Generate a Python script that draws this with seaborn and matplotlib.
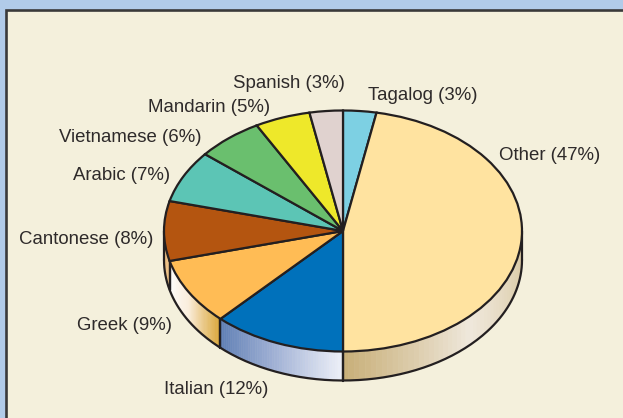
import numpy as np
import matplotlib
matplotlib.use('Agg')
import matplotlib.pyplot as plt
from matplotlib.patches import Rectangle
import seaborn as sns

# Data - clockwise from the top
languages = ['Tagalog', 'Other', 'Italian', 'Greek', 'Cantonese',
             'Arabic', 'Vietnamese', 'Mandarin', 'Spanish']
shares = [3, 47, 12, 9, 8, 7, 6, 5, 3]
top_colors = ['#7dd0e3', '#ffe3a0', '#0071bb', '#ffbc55', '#b45510',
              '#5cc5b5', '#6abf6e', '#eee82a', '#e0d2cf']

# side wall gradients, only the slices that reach the lower half
wall_colors = {
    'Other': ['#c9b07a', '#efe8dc', '#d8c69c'],
    'Italian': ['#5f7fb5', '#a3b3d6', '#eceff8'],
    'Greek': ['#ffffff', '#fbeedd', '#dba83c'],
    'Cantonese': ['#e8b878', '#eec48c'],
}

# label anchors in picture pixels (left edge, vertical centre)
label_pos = {
    'Tagalog': (368, 94), 'Other': (499, 153), 'Italian': (164, 388),
    'Greek': (77, 324), 'Cantonese': (19, 238), 'Arabic': (73, 173),
    'Vietnamese': (59, 136), 'Mandarin': (148, 105), 'Spanish': (233, 81),
}

W, H = 623, 418
CX, CY, RX, RY = 343, 231, 179, 120.5
DEPTH = 29 / RY
INK = '#231f20'
LW = 1.6


def px(x, y):
    # picture pixels to pie units
    return (x - CX) / RX, (CY - y) / RY


sns.set_theme(style='white')
plt.rcParams['font.family'] = ['Liberation Sans', 'DejaVu Sans']

fig = plt.figure(figsize=(W / 100, H / 100), dpi=100, facecolor='#b1cbe9')
ax = fig.add_axes([0, 0, 1, 1])

wedges, _ = ax.pie(shares, colors=sns.color_palette(top_colors), startangle=90,
                   counterclock=False, radius=1,
                   wedgeprops={'edgecolor': INK, 'linewidth': LW, 'zorder': 5})

# pie forces equal aspect, the tilted look needs it squashed
ax.set_aspect('auto')
ax.set_xlim(px(0, 0)[0], px(W, 0)[0])
ax.set_ylim(px(0, H)[1], px(0, 0)[1])
ax.set_frame_on(True)
ax.patch.set_alpha(0)
sns.despine(ax=ax, left=True, bottom=True)

# Panel behind the pie
x0, y0 = px(6, 9.5)
x1, y1 = px(W + 20, H + 20)
ax.add_patch(Rectangle((x0, y1), x1 - x0, y0 - y1, facecolor='#f4f0dc',
                       edgecolor='#3a3a3a', linewidth=1.9, zorder=0))

# Side wall - thin strips per slice, from the shares
edges = 90 - 3.6 * np.concatenate([[0], np.cumsum(shares)])
for i, name in enumerate(languages):
    if name not in wall_colors:
        continue
    a0 = max(edges[i], -180)
    a1 = max(min(edges[i + 1], 0), -180)
    a0 = min(a0, 0)
    n = 50
    pal = sns.blend_palette(wall_colors[name], n)
    # always walk the palette from left to right on screen
    angs = np.linspace(min(a0, a1), max(a0, a1), n + 1)
    for k in range(n):
        t = np.radians(np.linspace(angs[k], angs[k + 1], 3))
        xs = np.cos(t)
        ys = np.sin(t)
        ax.fill(np.r_[xs, xs[::-1]], np.r_[ys, ys[::-1] - DEPTH],
                color=pal[k], lw=0.4, zorder=2)
    # seam at the end of the slice
    for a in (a0, a1):
        if -180 < a < 0:
            r = np.radians(a)
            ax.plot([np.cos(r)] * 2, [np.sin(r), np.sin(r) - DEPTH],
                    color=INK, lw=LW, zorder=3)

# Lower rim and the two outer edges
t = np.radians(np.linspace(-180, 0, 200))
ax.plot(np.cos(t), np.sin(t) - DEPTH, color=INK, lw=LW, zorder=3)
ax.plot([-1, -1], [0, -DEPTH], color=INK, lw=LW, zorder=3)
ax.plot([1, 1], [0, -DEPTH], color=INK, lw=LW, zorder=3)

# Labels
for name, share in zip(languages, shares):
    lx, ly = px(*label_pos[name])
    ax.text(lx, ly, f'{name} ({share}%)', ha='left', va='center_baseline',
            fontsize=13.45, color='#2e2a2a', zorder=6)

plt.savefig('out.png', dpi=100, facecolor=fig.get_facecolor())
